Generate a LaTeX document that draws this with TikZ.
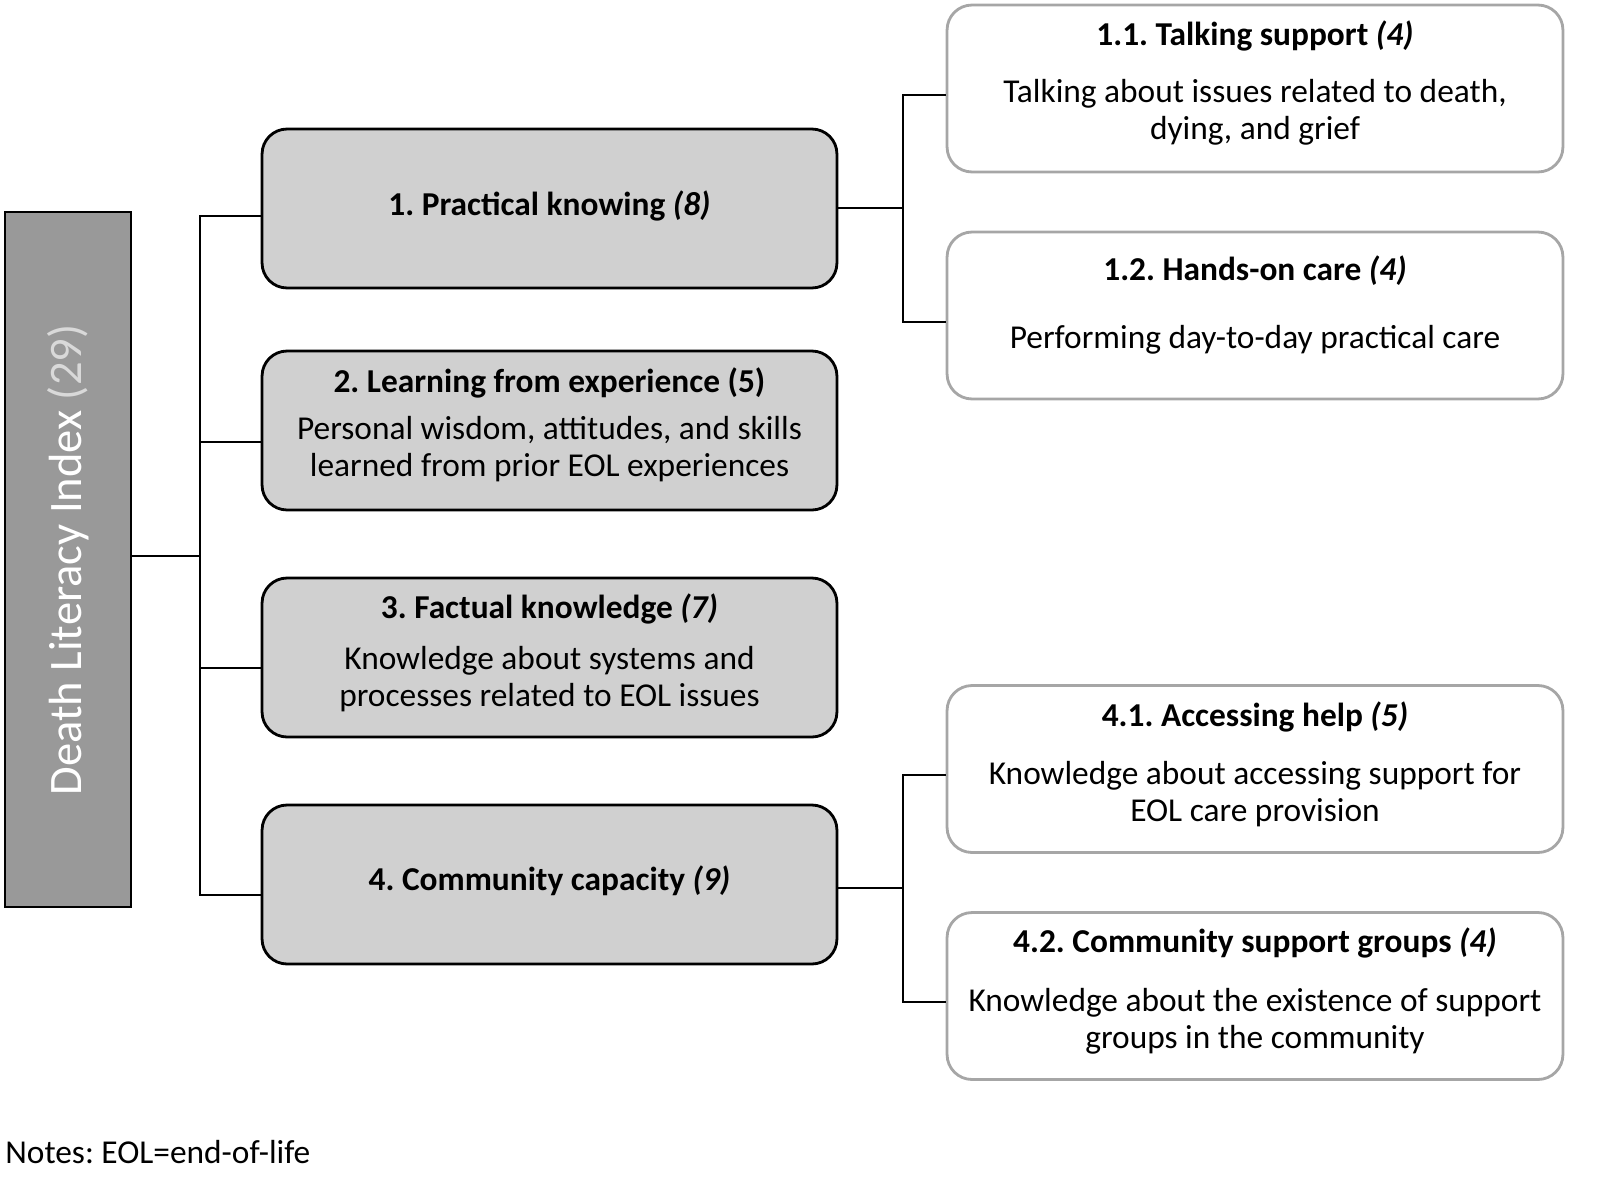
\documentclass[tikz,border=0pt]{standalone}
\usepackage{fontspec}
\setmainfont{Carlito}
\usetikzlibrary{calc}
\frenchspacing
\definecolor{rootgray}{HTML}{999999}
\definecolor{boxgray}{HTML}{D0D0D0}
\definecolor{rimgray}{HTML}{A6A6A6}
\definecolor{lightnum}{HTML}{D9D9D9}
\tikzset{
  rootbox/.style={draw=black, line width=1.6pt, fill=rootgray, minimum width=2.52cm, minimum height=13.9cm, inner sep=0pt},
  mainbox/.style={draw=black, line width=1.6pt, fill=boxgray, rounded corners=0.5cm, minimum width=11.5cm, minimum height=3.18cm, inner sep=0pt},
  subbox/.style={draw=rimgray, line width=1.6pt, fill=white, rounded corners=0.5cm, minimum width=12.32cm, minimum height=3.34cm, inner sep=0pt},
  boxtext/.style={align=center, inner sep=0pt, font=\fontsize{19}{21}\selectfont},
  link/.style={draw=black, line width=0.8pt},
}

\begin{document}
\begin{tikzpicture}[x=0.02cm, y=-0.02cm]
    \useasboundingbox (0,0) rectangle (1600,1191);
    % index
    \node[rootbox] (root) at (68,559.5) {};
    \node[rotate=90, text=white, font=\fontsize{26.5}{30}\selectfont] (roottext) at (68,560) {Death Literacy Index \textcolor{lightnum}{(29)}};
    % dimensions
    \node[mainbox] (b1) at (549.5,208.5) {};
    \node[mainbox] (b2) at (549.5,430.5) {};
    \node[mainbox] (b3) at (549.5,657.5) {};
    \node[mainbox] (b4) at (549.5,884.5) {};
    \node[boxtext] (t1) at (549.5,206) {\textbf{1. Practical knowing \textit{(8)}}};
    \node[boxtext] (t2) at (549.5,425) {\textbf{2. Learning from experience (5)}\\[0.2cm]
        Personal wisdom, attitudes, and skills\\ learned from prior EOL experiences};
    \node[boxtext] (t3) at (549.5,653) {\textbf{3. Factual knowledge \textit{(7)}}\\[0.28cm]
        Knowledge about systems and\\ processes related to EOL issues};
    \node[boxtext] (t4) at (549.5,881) {\textbf{4. Community capacity \textit{(9)}}};
    % subdimensions
    \node[subbox] (b11) at (1255,88.5) {};
    \node[subbox] (b12) at (1255,315.5) {};
    \node[subbox] (b41) at (1255,769) {};
    \node[subbox] (b42) at (1255,996) {};
    \node[boxtext] (t11) at (1255,83) {\textbf{1.1. Talking support \textit{(4)}}\\[0.42cm]
        Talking about issues related to death,\\ dying, and grief};
    \node[boxtext] (t12) at (1255,305) {\textbf{1.2. Hands-on care \textit{(4)}}\\[0.62cm]
        Performing day-to-day practical care};
    \node[boxtext] (t41) at (1255,764) {\textbf{4.1. Accessing help \textit{(5)}}\\[0.42cm]
        Knowledge about accessing support for\\ EOL care provision};
    \node[boxtext] (t42) at (1255,991) {\textbf{4.2. Community support groups \textit{(4)}}\\[0.44cm]
        Knowledge about the existence of support\\ groups in the community};
    % connectors
    \coordinate (rootfork) at (200,556);
    \coordinate (fork1) at (903,208);
    \coordinate (fork4) at (903,888);
    \draw[link] (root.east |- rootfork) -- (rootfork);
    \foreach \b/\d in {b1/7.5, b2/11.5, b3/10.5, b4/10.5}
        \draw[link] (rootfork) |- ($(\b.west)+(0,\d)$);
    \draw[link] (b1.east |- fork1) -- (fork1)
        (fork1) |- ($(b11.west)+(0,6.5)$)
        (fork1) |- ($(b12.west)+(0,6.5)$);
    \draw[link] (b4.east |- fork4) -- (fork4)
        (fork4) |- ($(b41.west)+(0,6)$)
        (fork4) |- ($(b42.west)+(0,6)$);
    \node[anchor=west, inner sep=0pt, font=\fontsize{19}{21}\selectfont] (notes) at (5,1152) {Notes: EOL=end-of-life};
\end{tikzpicture}
\end{document}
